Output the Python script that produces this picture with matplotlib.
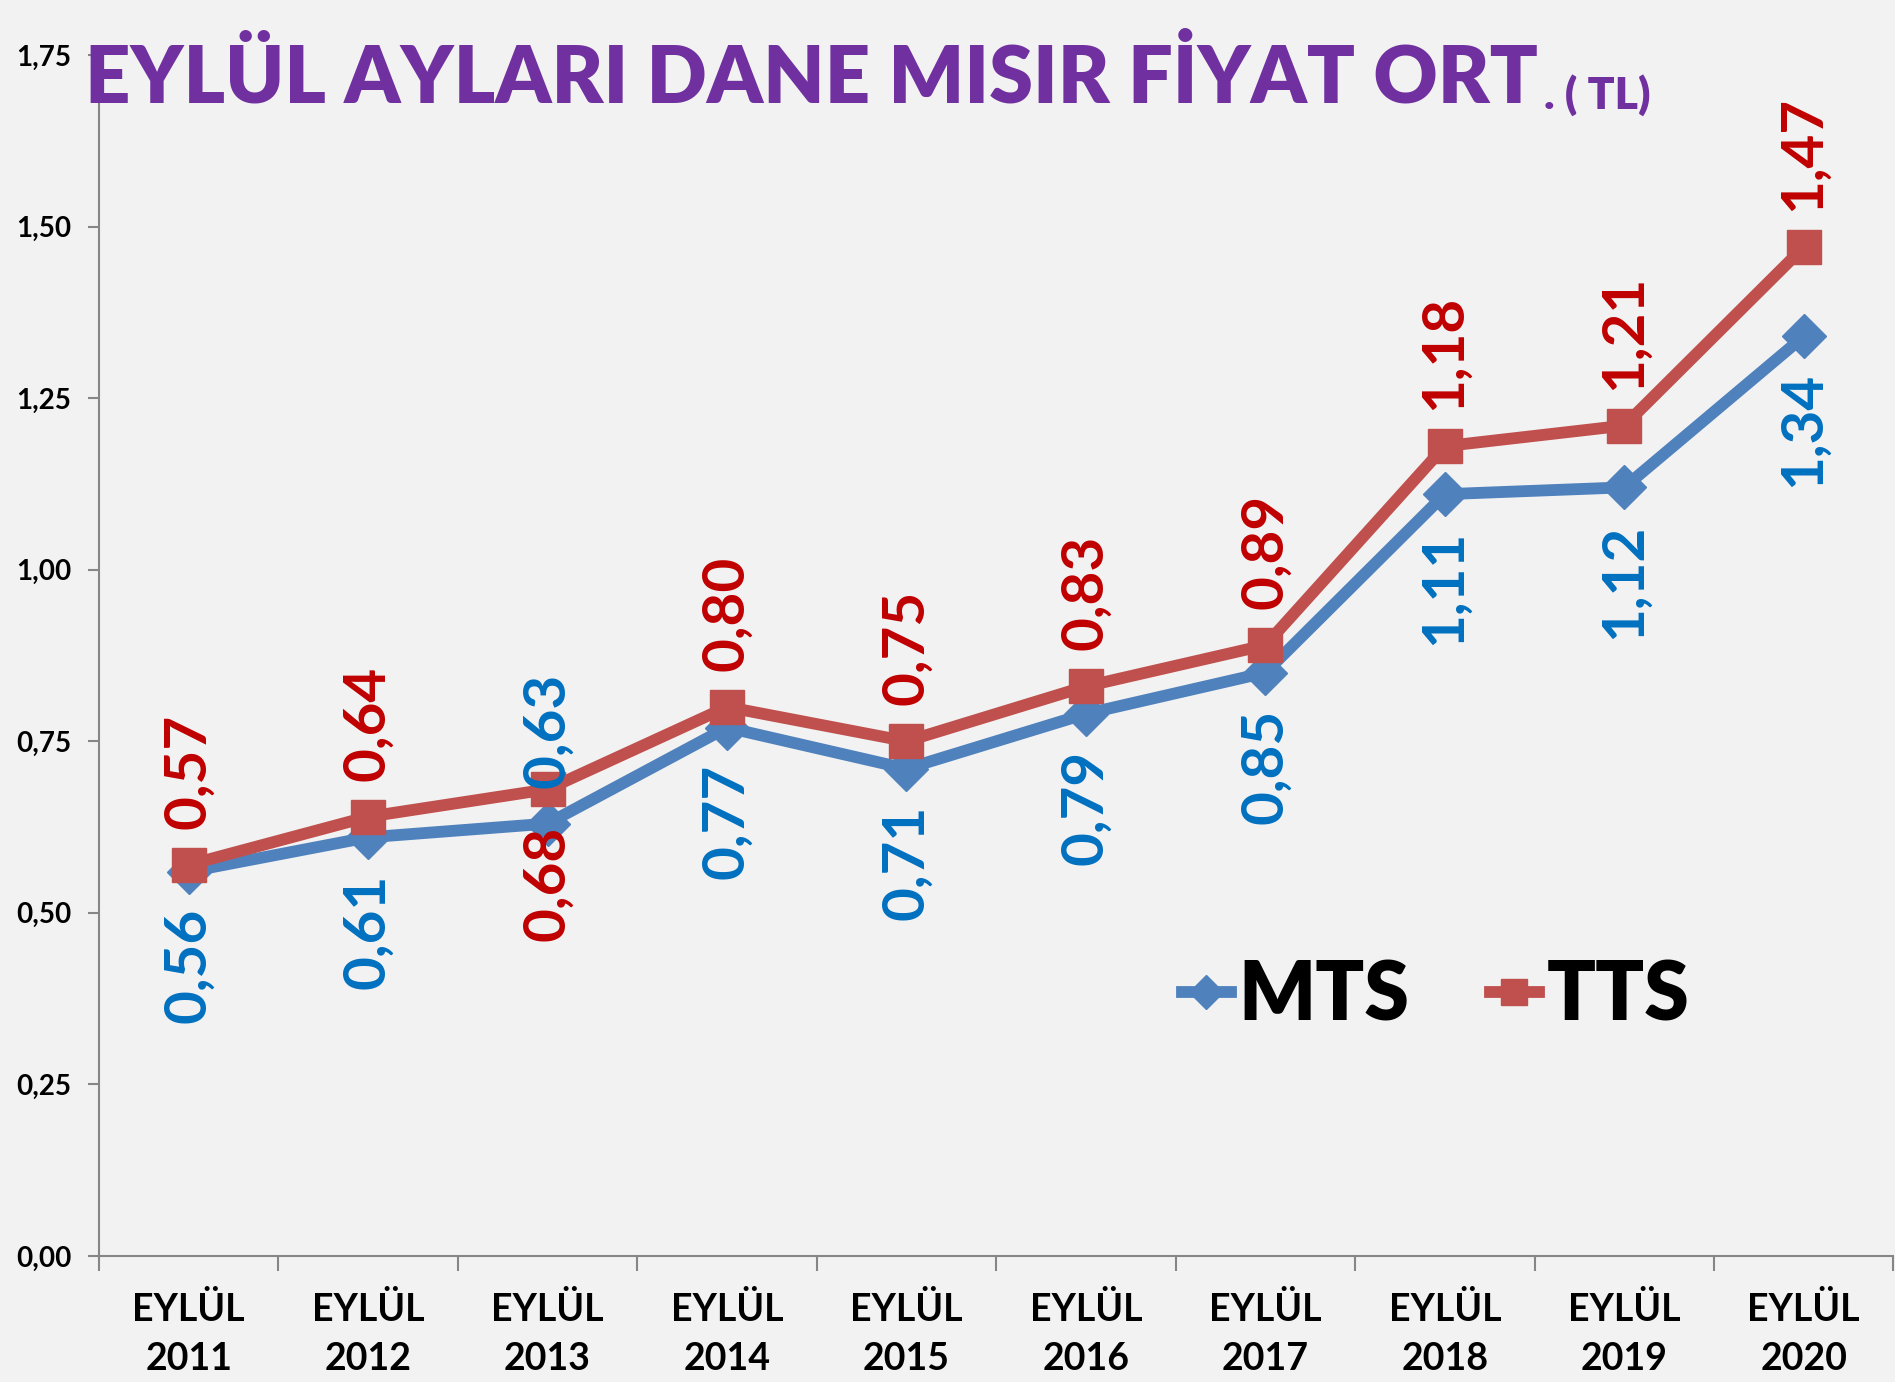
import matplotlib
matplotlib.use("Agg")
import matplotlib.pyplot as plt

years = ["2011", "2012", "2013", "2014", "2015", "2016", "2017", "2018", "2019", "2020"]
mts = [0.56, 0.61, 0.63, 0.77, 0.71, 0.79, 0.85, 1.11, 1.12, 1.34]
tts = [0.57, 0.64, 0.68, 0.80, 0.75, 0.83, 0.89, 1.18, 1.21, 1.47]
# label side for each point: +1 above, -1 below
mts_side = [-1, -1, 1, -1, -1, -1, -1, -1, -1, -1]
tts_side = [1, 1, -1, 1, 1, 1, 1, 1, 1, 1]
yticks = [0, 0.25, 0.5, 0.75, 1.0, 1.25, 1.5, 1.75]

plt.rcParams["font.family"] = ["Lato", "DejaVu Sans"]
plt.rcParams["font.weight"] = "bold"

bg = "#f2f2f2"
fig = plt.figure(figsize=(18.95, 13.82), dpi=100, facecolor=bg)
ax = fig.add_axes([0.0522, 0.0912, 0.947, 0.869])
ax.set_facecolor(bg)

x = list(range(len(years)))
ax.plot(x, mts, color="#4f81bd", lw=8.5, marker="D", ms=22, label="MTS", zorder=3)
ax.plot(x, tts, color="#c0504d", lw=8.5, marker="s", ms=24, label="TTS", zorder=4)

def labels(vals, sides, color):
    for i, (v, s) in enumerate(zip(vals, sides)):
        ax.annotate(f"{v:.2f}".replace(".", ","), (i, v), xytext=(0, 36 * s),
                    textcoords="offset pixels", rotation=90, ha="center",
                    va="bottom" if s > 0 else "top", color=color,
                    fontsize=42, fontweight="bold", zorder=5)

labels(mts, mts_side, "#0070c0")
labels(tts, tts_side, "#c00000")

ax.set_xlim(-0.5, len(years) - 0.5)
ax.set_ylim(0, 1.75)
ax.set_yticks(yticks)
ax.set_yticklabels([f"{t:.2f}".replace(".", ",") for t in yticks])
ax.set_xticks(x)
ax.set_xticklabels([f"EYLÜL\n{y}" for y in years], linespacing=1.55)
ax.set_xticks([i - 0.5 for i in range(len(years) + 1)], minor=True)

for s in ["top", "right"]:
    ax.spines[s].set_visible(False)
for s in ["left", "bottom"]:
    ax.spines[s].set_color("#868686")
    ax.spines[s].set_linewidth(1.5)

ax.tick_params(axis="y", length=8, width=1.5, color="#868686", pad=12,
               labelsize=20, labelcolor="black")
ax.tick_params(axis="x", which="major", length=0, pad=26, labelsize=27)
ax.tick_params(axis="x", which="minor", length=11, width=1.5, color="#868686")

ax.legend(loc="center", bbox_to_anchor=(0.745, 0.216), ncol=2, frameon=False,
          handlelength=0.6, handletextpad=0.1, columnspacing=1.0, markerscale=0.8,
          prop={"size": 58, "weight": "heavy"})

t = fig.text(0.0449, 0.9255, "EYLÜL AYLARI DANE MISIR FİYAT ORT", color="#7030a0",
             fontsize=57, fontweight="heavy", va="baseline", ha="left")
ax.annotate(". ( TL)", xy=(1, 0), xycoords=t, xytext=(4, 0), textcoords="offset points",
            color="#7030a0", fontsize=32, fontweight="heavy", va="bottom", ha="left")

fig.savefig("out.png", dpi=100, facecolor=bg)
